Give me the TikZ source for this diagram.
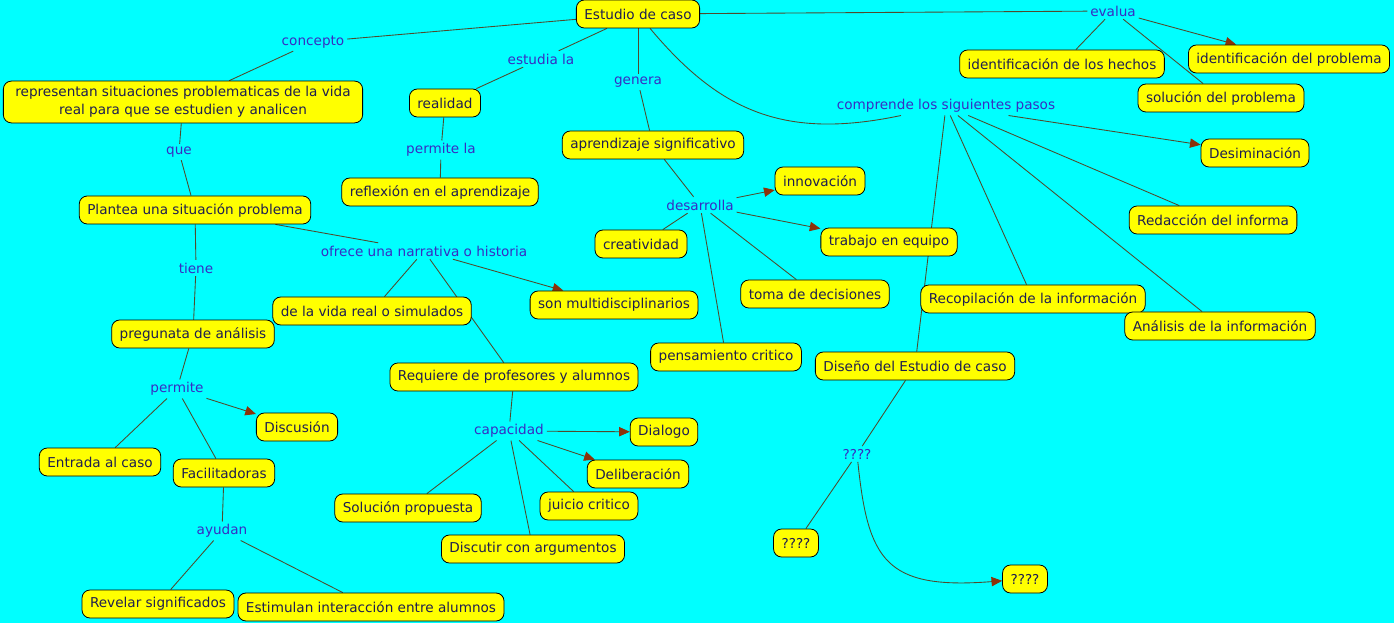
\documentclass[tikz,border=0pt]{standalone}
\usepackage{fontspec}
\setmainfont{DejaVu Sans}
\usetikzlibrary{arrows.meta,backgrounds}
\definecolor{fondo}{RGB}{0,255,255}
\definecolor{amarillo}{RGB}{255,255,0}
\definecolor{tinta}{RGB}{30,30,80}
\definecolor{enlace}{RGB}{55,45,195}
\definecolor{linea}{RGB}{80,75,45}
\definecolor{punta}{RGB}{140,50,10}

\begin{document}
\begin{tikzpicture}[x=0.75pt,y=-0.75pt,
  c/.style={draw=black,line width=0.6pt,fill=amarillo,rounded corners=6pt,inner xsep=6pt,inner ysep=4pt,minimum height=21pt,text=tinta,font=\fontsize{10.2}{13.5}\selectfont},
  lk/.style={text=enlace,inner sep=2pt,font=\fontsize{10.2}{13.5}\selectfont},
  ln/.style={draw=linea,line width=0.65pt},
  ar/.style={ln,-{Triangle[length=8pt,width=7pt,color=punta]}}]
 \useasboundingbox (0,0) rectangle (1394,623);
 % conceptos
 \node[c] (es) at (638,14) {Estudio de caso};
 \node[c,align=center,inner xsep=9pt] (rep) at (183,102) {representan situaciones problematicas de la vida\\real para que se estudien y analicen};
 \node[c] (rea) at (445,103) {realidad};
 \node[c] (ref) at (440,192) {reflexión en el aprendizaje};
 \node[c] (apr) at (653,145) {aprendizaje significativo};
 \node[c] (inn) at (820,181) {innovación};
 \node[c] (cre) at (641,244) {creatividad};
 \node[c] (tra) at (889,242) {trabajo en equipo};
 \node[c] (tom) at (815,294) {toma de decisiones};
 \node[c] (pen) at (726,357) {pensamiento critico};
 \node[c] (ihe) at (1062,64) {identificación de los hechos};
 \node[c] (ipr) at (1289,59) {identificación del problema};
 \node[c] (sol) at (1221,98) {solución del problema};
 \node[c] (dsm) at (1255,153) {Desiminación};
 \node[c] (red) at (1213,220) {Redacción del informa};
 \node[c] (rec) at (1033,299) {Recopilación de la información};
 \node[c] (ana) at (1220,326) {Análisis de la información};
 \node[c] (dis) at (915,366) {Diseño del Estudio de caso};
 \node[c] (qa) at (796,543) {????};
 \node[c] (qb) at (1025,579) {????};
 \node[c] (plt) at (195,210) {Plantea una situación problema};
 \node[c] (pre) at (193,334) {pregunata de análisis};
 \node[c] (vid) at (372,311) {de la vida real o simulados};
 \node[c] (mul) at (614,305) {son multidisciplinarios};
 \node[c] (req) at (514,377) {Requiere de profesores y alumnos};
 \node[c] (dcu) at (297,427) {Discusión};
 \node[c] (ent) at (100,462) {Entrada al caso};
 \node[c] (fac) at (224,473) {Facilitadoras};
 \node[c] (rev) at (158,604) {Revelar significados};
 \node[c] (sti) at (371,607) {Estimulan interacción entre alumnos};
 \node[c] (dia) at (664,432) {Dialogo};
 \node[c] (dlb) at (638,474) {Deliberación};
 \node[c] (jui) at (589,506) {juicio critico};
 \node[c] (spr) at (408,508) {Solución propuesta};
 \node[c] (arg) at (533,549) {Discutir con argumentos};
 % frases de enlace
 \node[lk] (lcon) at (313,42) {concepto};
 \node[lk] (lest) at (541,59) {estudia la};
 \node[lk] (lgen) at (638,82) {genera};
 \node[lk] (leva) at (1113,11) {evalua};
 \node[lk] (lcom) at (946,106) {comprende los siguientes pasos};
 \node[lk] (lper) at (441,150) {permite la};
 \node[lk] (lque) at (179,152) {que};
 \node[lk] (ldes) at (700,205) {desarrolla};
 \node[lk] (ltie) at (196,268) {tiene};
 \node[lk] (lofr) at (424,251) {ofrece una narrativa o historia};
 \node[lk] (lpmt) at (177,389) {permite};
 \node[lk] (layu) at (222,531) {ayudan};
 \node[lk] (lcap) at (509,431) {capacidad};
 \node[lk] (lq) at (857,454) {????};
 % conexiones
 \begin{scope}[on background layer]
  \fill[fondo] (0,0) rectangle (1394,623);
  \foreach \a/\b in {es/lcon,lcon/rep,es/lest,lest/rea,rea/lper,lper/ref,es/lgen,lgen/apr,apr/ldes,ldes/cre,ldes/tom,ldes/pen,es/leva,leva/ihe,leva/sol,lcom/red,lcom/ana,lcom/rec,lcom/dis,dis/lq,lq/qa,rep/lque,lque/plt,plt/ltie,ltie/pre,plt/lofr,lofr/vid,lofr/req,pre/lpmt,lpmt/ent,lpmt/fac,fac/layu,layu/rev,layu/sti,req/lcap,lcap/spr,lcap/arg,lcap/jui}
   \draw[ln] (\a)--(\b);
  \foreach \a/\b in {ldes/inn,ldes/tra,leva/ipr,lcom/dsm,lofr/mul,lpmt/dcu,lcap/dia,lcap/dlb}
   \draw[ar] (\a)--(\b);
  \draw[ln] (es) .. controls (720,112) and (785,140) .. (lcom);
  \draw[ar] (lq) .. controls (868,560) and (885,590) .. (qb);
 \end{scope}
\end{tikzpicture}
\end{document}
